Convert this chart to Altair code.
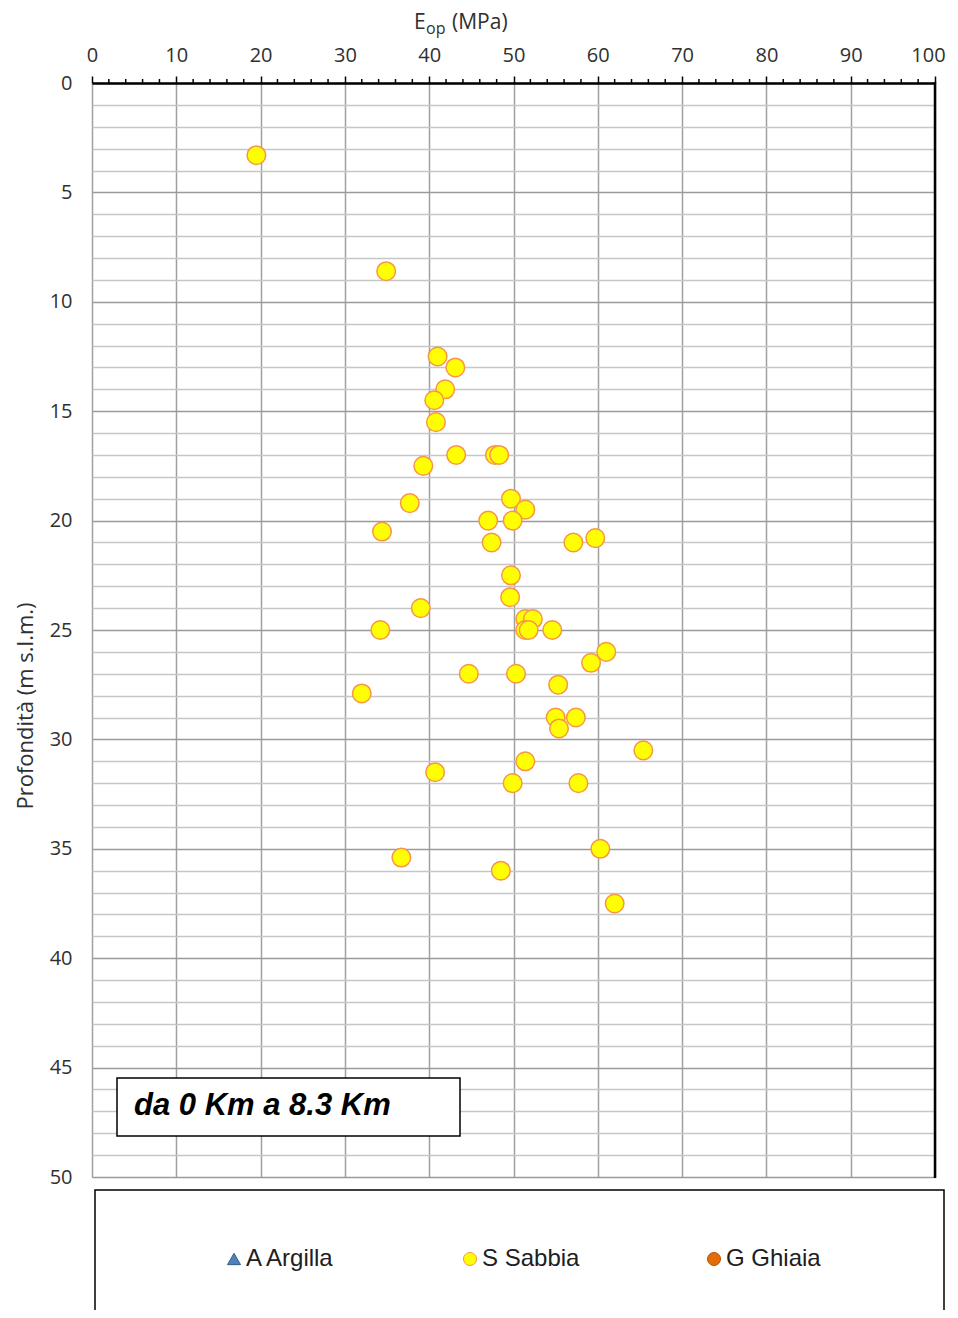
import altair as alt
import pandas as pd

# ---- data ----
eop = [19.5, 34.9, 41.0, 43.1, 41.9, 40.6, 40.8, 43.2, 47.8, 48.3, 39.3, 49.7, 37.7, 51.4,
       47.0, 49.9, 34.4, 47.4, 57.1, 59.7, 49.7, 49.6, 39.0, 51.4, 52.3, 51.4, 51.8, 54.6,
       34.2, 61.0, 59.2, 44.7, 50.3, 32.0, 55.3, 55.0, 57.4, 55.4, 65.4, 51.4, 40.7, 49.9,
       57.7, 60.3, 36.7, 48.5, 62.0]
depth = [3.3, 8.6, 12.5, 13.0, 14.0, 14.5, 15.5, 17.0, 17.0, 17.0, 17.5, 19.0, 19.2, 19.5,
         20.0, 20.0, 20.5, 21.0, 21.0, 20.8, 22.5, 23.5, 24.0, 24.5, 24.5, 25.0, 25.0, 25.0,
         25.0, 26.0, 26.5, 27.0, 27.0, 27.9, 27.5, 29.0, 29.0, 29.5, 30.5, 31.0, 31.5, 32.0,
         32.0, 35.0, 35.4, 36.0, 37.5]
categories = ["A Argilla", "S Sabbia", "G Ghiaia"]
fill_colors = ["#4F81BD", "#FFFF00", "#E36C09"]
stroke_colors = ["#385D8A", "#F79646", "#B65708"]
shapes = ["triangle-up", "circle", "circle"]
x_major = list(range(0, 101, 10))
x_minor = [v for v in range(0, 101, 2) if v % 10 != 0]
y_ticks = list(range(0, 51))
title_parts = ["E", "op", "(MPa)"]
y_title = "Profondità (m s.l.m.)"
note = "da 0 Km a 8.3 Km"

W, H = 843, 1094

df = pd.DataFrame({"eop": eop, "depth": depth, "tipo": ["S Sabbia"] * len(eop)})
one = pd.DataFrame({"k": [0]})
minor_df = pd.DataFrame({"eop": x_minor})

xscale = alt.Scale(domain=[0, 100], nice=False, zero=False)
yscale = alt.Scale(domain=[0, 50], nice=False, reverse=True, zero=False)

xaxis = alt.Axis(orient="top", values=x_major, title=None, grid=True, gridColor="#a0a0a0",
                 gridWidth=1.5, domainColor="black", domainWidth=2.5, tickColor="black",
                 tickWidth=1.5, tickSize=7, labelPadding=11, labelFontSize=20,
                 labelFlush=False, labelOverlap=False,
                 labelOffset={"condition": {"test": "datum.value === 100", "value": -7},
                              "value": 0},
                 labelColor="#303030", labelFont="Open Sans")
yaxis = alt.Axis(orient="left", values=y_ticks, title=None, grid=True,
                 gridColor={"condition": {"test": "datum.value % 5 === 0", "value": "#9a9a9a"},
                            "value": "#c6c6c6"},
                 gridWidth=1.7, domain=False, ticks=False, tickSize=0, labelPadding=20,
                 labelFlush=False, labelOverlap=False,
                 labelExpr="datum.value % 5 === 0 ? datum.label : ''",
                 labelFontSize=20, labelColor="#303030", labelFont="Open Sans")

points = alt.Chart(df).mark_point(filled=True, size=345, strokeWidth=1.5, opacity=1).encode(
    x=alt.X("eop:Q", scale=xscale, axis=xaxis),
    y=alt.Y("depth:Q", scale=yscale, axis=yaxis),
    color=alt.Color("tipo:N", scale=alt.Scale(domain=categories, range=fill_colors),
                    legend=alt.Legend(title=None, orient="none", legendX=130, legendY=1164,
                                      direction="horizontal", labelFont="Liberation Sans",
                                      labelFontSize=24, labelColor="#202020", symbolSize=170,
                                      symbolStrokeWidth=1, columnPadding=122, labelOffset=0,
                                      padding=0, symbolOpacity=1)),
    stroke=alt.Stroke("tipo:N", scale=alt.Scale(domain=categories, range=stroke_colors)),
    shape=alt.Shape("tipo:N", scale=alt.Scale(domain=categories, range=shapes)),
)

minor_ticks = alt.Chart(minor_df).mark_rule(color="black", strokeWidth=1.5).encode(
    x=alt.X("eop:Q", scale=xscale),
    y=alt.value(-4), y2=alt.value(0),
)

right_border = alt.Chart(one).mark_rule(color="black", strokeWidth=2.5).encode(
    x=alt.value(W), y=alt.value(-1), y2=alt.value(H + 1))

t_e = alt.Chart(one).mark_text(align="left", baseline="alphabetic", fontSize=21,
                               font="Open Sans", color="#303030").encode(
    x=alt.value(322), y=alt.value(-54), text=alt.value(title_parts[0]))
t_op = alt.Chart(one).mark_text(align="left", baseline="alphabetic", fontSize=16,
                                font="Open Sans", color="#303030").encode(
    x=alt.value(334), y=alt.value(-49), text=alt.value(title_parts[1]))
t_mpa = alt.Chart(one).mark_text(align="left", baseline="alphabetic", fontSize=21,
                                 font="Open Sans", color="#303030").encode(
    x=alt.value(360), y=alt.value(-54), text=alt.value(title_parts[2]))

t_y = alt.Chart(one).mark_text(align="center", baseline="middle", fontSize=22, angle=270,
                               font="Open Sans", color="#303030").encode(
    x=alt.value(-66), y=alt.value(623), text=alt.value(y_title))

note_box = alt.Chart(one).mark_rect(fill="white", stroke="black", strokeWidth=1.5).encode(
    x=alt.value(25), x2=alt.value(368), y=alt.value(995), y2=alt.value(1053))
note_text = alt.Chart(one).mark_text(align="left", baseline="middle", fontSize=31,
                                     font="Liberation Sans", fontWeight="bold",
                                     fontStyle="italic", color="black").encode(
    x=alt.value(42), y=alt.value(1023), text=alt.value(note))

legend_box = alt.Chart(one).mark_rect(fill="white", stroke="black", strokeWidth=1.5).encode(
    x=alt.value(3), x2=alt.value(852), y=alt.value(1107), y2=alt.value(1260))

chart = alt.layer(
    legend_box, minor_ticks, note_box, note_text, points, right_border, t_e, t_op, t_mpa, t_y
).properties(
    width=W, height=H,
    autosize=alt.AutoSizeParams(type="none"),
    padding={"left": 84, "top": 75, "right": 15, "bottom": 133},
).configure_view(stroke="#bdbdbd", strokeWidth=2).configure(background="white")

chart.save("out.html", embed_options={"renderer": "svg", "actions": False})
